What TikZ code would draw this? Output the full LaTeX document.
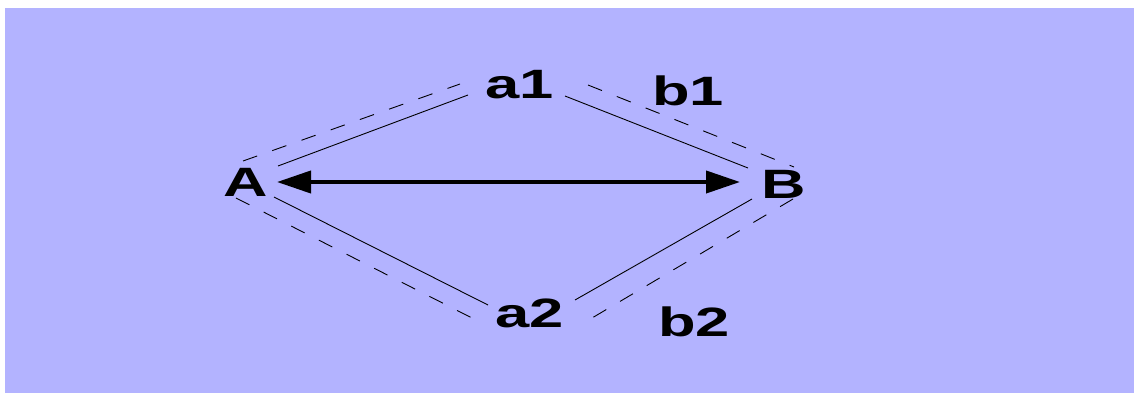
\documentclass[tikz,border=0pt]{standalone}
\usepackage{fontspec}
\setmainfont{Liberation Sans}
\usetikzlibrary{arrows.meta}
\definecolor{bgblue}{RGB}{179,179,255}
\tikzset{
  lbl/.style={font=\fontsize{41}{41}\selectfont\bfseries, inner sep=0pt, text=black, xscale=1.5},
  solidln/.style={draw=black, line width=0.9pt},
  dashln/.style={draw=black, line width=0.9pt, dash pattern=on 15pt off 16pt},
  bigarrow/.style={draw=black, line width=4pt, {Triangle[length=34pt,width=22pt]}-{Triangle[length=34pt,width=22pt]}}
}
\begin{document}
\begin{tikzpicture}[x=1pt,y=-1pt]
\useasboundingbox (0,0) rectangle (1134,394);
\fill[white] (0,0) rectangle (1134,394);
\fill[bgblue] (5,8) rectangle (1134,393);
% labels
\node[lbl] (A) at (246,182) {A};
\node[lbl] (B) at (784,184) {B};
\node[lbl] (a1) at (520,85) {a1};
\node[lbl] (a2) at (530,313) {a2};
\node[lbl] (b1) at (688,91) {b1};
\node[lbl] (b2) at (694,322) {b2};
% endpoints
\coordinate (s1) at (278,166); \coordinate (s2) at (468,95);
\coordinate (s3) at (565,96);  \coordinate (s4) at (748,168);
\coordinate (s5) at (274,197); \coordinate (s6) at (488,305);
\coordinate (s7) at (575,300); \coordinate (s8) at (752,199);
\coordinate (d1) at (243,161); \coordinate (d2) at (460,84);
\coordinate (d3) at (588,85);  \coordinate (d4) at (794,167);
\coordinate (d5) at (236,198); \coordinate (d6) at (472,318);
\coordinate (d7) at (592,318); \coordinate (d8) at (793,199);
\coordinate (ar1) at (277,182); \coordinate (ar2) at (740,182);
% solid lines
\draw[solidln] (s1) -- (s2);
\draw[solidln] (s3) -- (s4);
\draw[solidln] (s5) -- (s6);
\draw[solidln] (s7) -- (s8);
% dashed lines
\draw[dashln] (d1) -- (d2);
\draw[dashln] (d3) -- (d4);
\draw[dashln] (d5) -- (d6);
\draw[dashln] (d8) -- (d7);
% arrow
\draw[bigarrow] (ar1) -- (ar2);
\end{tikzpicture}
\end{document}
